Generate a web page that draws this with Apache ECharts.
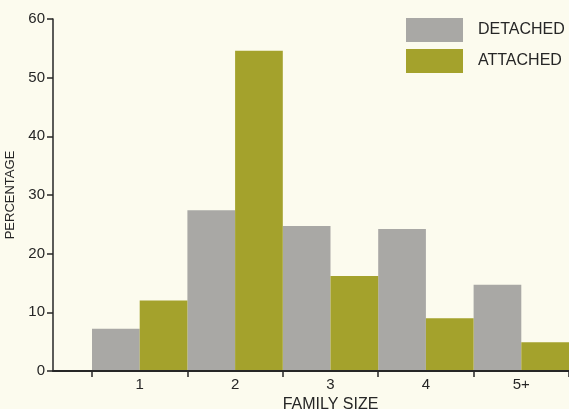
<!DOCTYPE html>
<html>
<head>
<meta charset="utf-8">
<script src="https://cdn.jsdelivr.net/npm/echarts@6/dist/echarts.min.js"></script>
<style>
  html, body { margin: 0; padding: 0; background: #fcfbee; }
  #chart { width: 569px; height: 409px; }
</style>
</head>
<body>
<div id="chart"></div>
<script>
// Family size categories and the share of households in each (percent)
const familySizes = ['1', '2', '3', '4', '5+'];
const detached = [7.2, 27.4, 24.7, 24.2, 14.7];
const attached = [12.0, 54.6, 16.2, 9.0, 4.9];
const yTicks = { min: 0, max: 60, step: 10 };

const ink = '#262626';
const font = '"Liberation Sans", Arial, Helvetica, sans-serif';

const chart = echarts.init(document.getElementById('chart'));
chart.setOption({
  backgroundColor: '#fcfbee',
  animation: false,
  textStyle: { fontFamily: font, color: ink },
  legend: {
    orient: 'vertical',
    left: 406,
    top: 18,
    padding: 0,
    itemWidth: 57,
    itemHeight: 24,
    itemGap: 7,
    icon: 'rect',
    textStyle: { fontSize: 16, color: ink, fontFamily: font, padding: [0, 0, 0, 10] },
    data: ['DETACHED', 'ATTACHED']
  },
  grid: [
    // frame: y axis and baseline
    { left: 53, right: 0, top: 19, bottom: 38, outerBoundsMode: 'none' },
    // bars
    { left: 92, right: 0, top: 19, bottom: 38, outerBoundsMode: 'none' }
  ],
  xAxis: [
    {
      // baseline drawn above the bars
      gridIndex: 0, type: 'value', min: 0, max: 1, z: 5,
      axisLine: { show: true, lineStyle: { color: ink, width: 2 } },
      axisTick: { show: false }, axisLabel: { show: false }, splitLine: { show: false }
    },
    {
      gridIndex: 1, type: 'category', data: familySizes,
      name: 'FAMILY SIZE', nameLocation: 'middle', nameGap: 21,
      nameTextStyle: { fontSize: 16, color: ink, fontFamily: font },
      axisLine: { show: false },
      axisTick: { show: true, length: 6, lineStyle: { color: ink, width: 1.5 } },
      axisLabel: { fontSize: 15, color: ink, margin: 6 },
      splitLine: { show: false }
    }
  ],
  yAxis: [
    {
      gridIndex: 0, type: 'value', min: yTicks.min, max: yTicks.max, interval: yTicks.step, z: 5,
      name: 'PERCENTAGE', nameLocation: 'middle', nameGap: 35,
      nameTextStyle: { fontSize: 13, color: ink, fontFamily: font },
      axisLine: { show: true, lineStyle: { color: ink, width: 1.5 } },
      axisTick: { show: true, inside: false, length: 6, lineStyle: { color: ink, width: 1.5 } },
      axisLabel: { fontSize: 15, color: ink, margin: 8 },
      splitLine: { show: false }
    },
    {
      gridIndex: 1, type: 'value', min: yTicks.min, max: yTicks.max, show: false
    }
  ],
  series: [
    {
      name: 'DETACHED', type: 'bar', xAxisIndex: 1, yAxisIndex: 1,
      data: detached, barGap: '0%', barCategoryGap: '0%',
      itemStyle: { color: '#a9a8a5' }
    },
    {
      name: 'ATTACHED', type: 'bar', xAxisIndex: 1, yAxisIndex: 1,
      data: attached, barGap: '0%', barCategoryGap: '0%',
      itemStyle: { color: '#a4a22c' }
    }
  ]
});
</script>
</body>
</html>
